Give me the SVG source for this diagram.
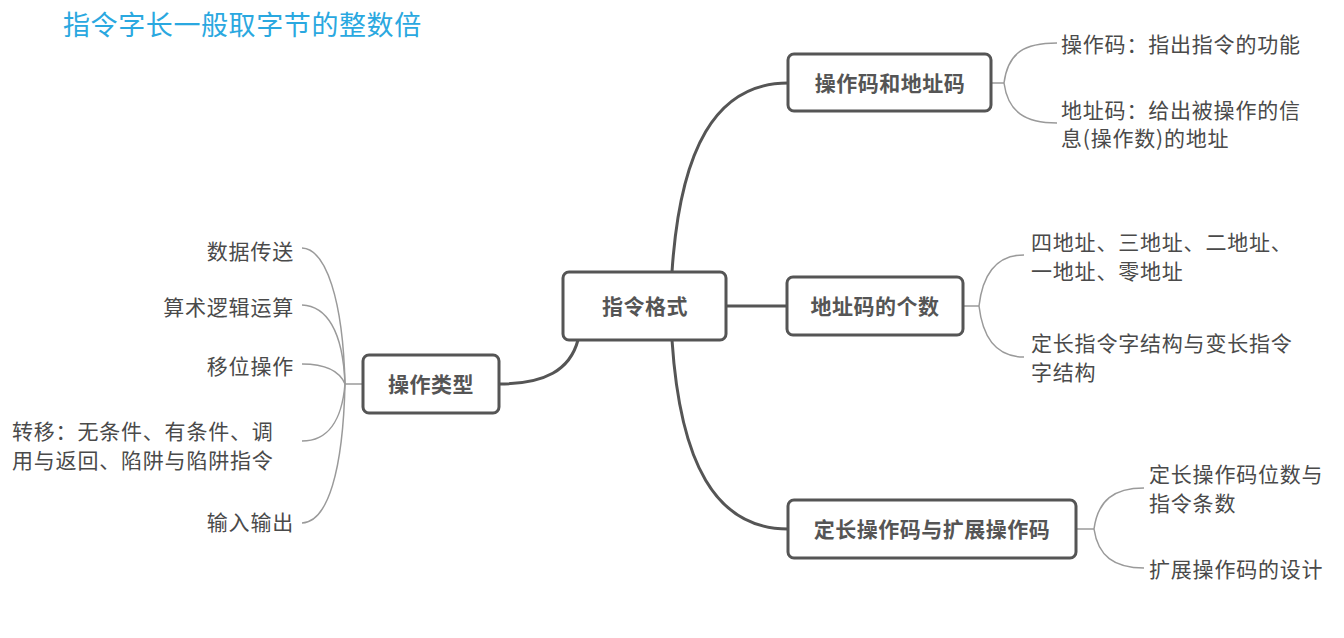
<svg xmlns="http://www.w3.org/2000/svg" width="1344" height="638" viewBox="0 0 1344 638">
<style>
.node rect{fill:#fff;stroke:#555;stroke-width:3}
.node text{font-family:"Noto Sans CJK SC","Noto Sans",sans-serif;font-size:21px;font-weight:bold;fill:#555;text-anchor:middle;letter-spacing:0.5px}
.lbl{font-family:"Noto Sans CJK SC","Noto Sans",sans-serif;font-size:21px;fill:#4a4a4a;letter-spacing:0.8px}
.r{text-anchor:end}
.main{fill:none;stroke:#555;stroke-width:3}
.sub{fill:none;stroke:#9a9a9a;stroke-width:1.5}
.title{font-family:"Noto Sans CJK SC",sans-serif;font-size:27px;fill:#2aa8e0;letter-spacing:0.6px}
</style>
<rect width="1344" height="638" fill="#fff"/>
<text class="title" x="63" y="35">指令字长一般取字节的整数倍</text>

<g id="connectors">
<path class="main" d="M672,272 C680,150 715,83 788,83"/>
<path class="main" d="M726,306 L787,306"/>
<path class="main" d="M672,340 C680,462 715,529 788,529"/>
<path class="main" d="M578,340 C570,370 545,384 499,384"/>

<path class="sub" d="M991,83 L1004,83"/>
<path class="sub" d="M1004,83 C1008,52 1025,43 1057,43"/>
<path class="sub" d="M1004,83 C1008,112 1025,123 1057,123"/>

<path class="sub" d="M963,306 L979,306"/>
<path class="sub" d="M979,306 C983,272 998,255 1024,255"/>
<path class="sub" d="M979,306 C983,340 998,357 1024,357"/>

<path class="sub" d="M1076,529 L1094,529"/>
<path class="sub" d="M1094,529 C1098,500 1114,488 1144,488"/>
<path class="sub" d="M1094,529 C1098,556 1114,568 1144,568"/>

<path class="sub" d="M363,384 L345,384"/>
<path class="sub" d="M302,248 C326,249 343,300 345,384"/>
<path class="sub" d="M302,305 C326,306 343,330 345,384"/>
<path class="sub" d="M302,364 C326,364 340,372 345,384"/>
<path class="sub" d="M302,441 C328,441 342,420 345,384"/>
<path class="sub" d="M302,523 C328,522 343,470 345,384"/>
</g>

<g id="n-center" class="node"><rect x="563" y="272" width="163" height="68" rx="6"/><text x="645" y="314">指令格式</text></g>
<g id="n-opaddr" class="node"><rect x="788" y="54" width="203" height="57" rx="6"/><text x="890" y="91">操作码和地址码</text></g>
<g id="n-addrcount" class="node"><rect x="787" y="277" width="176" height="58" rx="6"/><text x="875" y="314">地址码的个数</text></g>
<g id="n-fixedext" class="node"><rect x="788" y="500" width="288" height="58" rx="6"/><text x="932" y="537">定长操作码与扩展操作码</text></g>
<g id="n-optype" class="node"><rect x="363" y="355" width="136" height="58" rx="6"/><text x="431" y="392">操作类型</text></g>

<g id="l-opcode"><text class="lbl" x="1061" y="52">操作码：指出指令的功能</text></g>
<g id="l-addrcode"><text class="lbl" x="1061" y="118">地址码：给出被操作的信</text><text class="lbl" x="1061" y="146">息(操作数)的地址</text></g>
<g id="l-addrs"><text class="lbl" x="1031" y="250">四地址、三地址、二地址、</text><text class="lbl" x="1031" y="279">一地址、零地址</text></g>
<g id="l-fixedvar"><text class="lbl" x="1031" y="351">定长指令字结构与变长指令</text><text class="lbl" x="1031" y="380">字结构</text></g>
<g id="l-fixedop"><text class="lbl" x="1149" y="482">定长操作码位数与</text><text class="lbl" x="1149" y="511">指令条数</text></g>
<g id="l-extop"><text class="lbl" x="1149" y="577">扩展操作码的设计</text></g>

<g id="l-data"><text class="lbl r" x="294" y="259">数据传送</text></g>
<g id="l-alu"><text class="lbl r" x="294" y="315">算术逻辑运算</text></g>
<g id="l-shift"><text class="lbl r" x="294" y="374">移位操作</text></g>
<g id="l-jump"><text class="lbl" x="12" y="439">转移：无条件、有条件、调</text><text class="lbl" x="12" y="468">用与返回、陷阱与陷阱指令</text></g>
<g id="l-io"><text class="lbl r" x="294" y="530">输入输出</text></g>
</svg>
